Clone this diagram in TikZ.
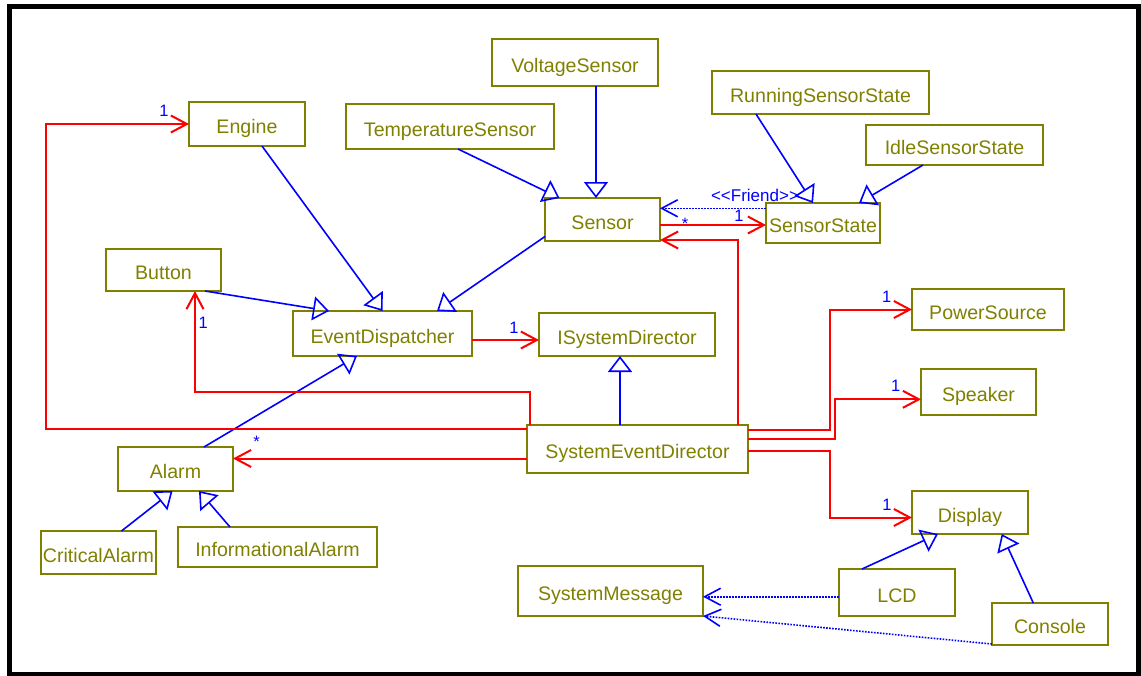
\documentclass[tikz,border=0pt]{standalone}
\usepackage{fontspec}
\setmainfont{Liberation Sans}
\usetikzlibrary{arrows.meta}
\definecolor{umlolive}{RGB}{128,128,0}
\definecolor{umlblue}{RGB}{0,0,255}
\definecolor{umlred}{RGB}{255,0,0}
\begin{document}
\begin{tikzpicture}[x=1pt,y=-1pt,
  cls/.style={draw=umlolive, line width=2pt, text=umlolive, inner sep=0pt, outer sep=0pt,
    text height=19pt, text depth=0pt, font=\fontsize{19.6}{22}\selectfont},
  gen/.style={draw=umlblue, line width=1.6pt,
    -{Triangle[open,length=16pt,width=24pt]}},
  assoc/.style={draw=umlred, line width=2pt, -{Straight Barb[length=16pt,width=17pt]}},
  dep/.style={draw=umlblue, line width=1.6pt, dash pattern=on 1.6pt off 1.4pt,
    -{Straight Barb[length=16pt,width=17pt]}},
  mult/.style={text=umlblue, inner sep=0pt, font=\fontsize{16.5}{18}\selectfont},
]
\useasboundingbox (0,0) rectangle (1141,675);
% outer frame
\draw[line width=5pt] (9.5,6.5) rectangle (1138.5,674.5);

% classes
\node[cls, minimum width=116pt, minimum height=44pt] (Engine) at (247,124) {Engine};
\node[cls, minimum width=166pt, minimum height=47pt] (VoltageSensor) at (575,62.5) {VoltageSensor};
\node[cls, minimum width=208pt, minimum height=45pt] (TemperatureSensor) at (450,126.5) {TemperatureSensor};
\node[cls, minimum width=217pt, minimum height=43pt] (RunningSensorState) at (820.5,92.5) {RunningSensorState};
\node[cls, minimum width=177pt, minimum height=40pt] (IdleSensorState) at (954.5,145) {IdleSensorState};
\node[cls, minimum width=115pt, minimum height=43pt] (Sensor) at (602.5,219.5) {Sensor};
\node[cls, minimum width=114pt, minimum height=40pt] (SensorState) at (823,223) {SensorState};
\node[cls, minimum width=115pt, minimum height=42pt] (Button) at (163.5,270) {Button};
\node[cls, minimum width=179pt, minimum height=45pt] (EventDispatcher) at (382.5,333.5) {EventDispatcher};
\node[cls, minimum width=176pt, minimum height=43pt] (ISystemDirector) at (627,334.5) {ISystemDirector};
\node[cls, minimum width=221pt, minimum height=48pt] (SystemEventDirector) at (637.5,449) {SystemEventDirector};
\node[cls, minimum width=152pt, minimum height=41pt] (PowerSource) at (988,309.5) {PowerSource};
\node[cls, minimum width=115pt, minimum height=46pt] (Speaker) at (978.5,392) {Speaker};
\node[cls, minimum width=116pt, minimum height=43pt] (Display) at (970,512.5) {Display};
\node[cls, minimum width=116pt, minimum height=47pt] (LCD) at (897,592.5) {LCD};
\node[cls, minimum width=116pt, minimum height=42pt] (Console) at (1050,624) {Console};
\node[cls, minimum width=185pt, minimum height=50pt] (SystemMessage) at (610.5,591) {SystemMessage};
\node[cls, minimum width=115pt, minimum height=44pt] (Alarm) at (175.5,469) {Alarm};
\node[cls, minimum width=115pt, minimum height=43pt] (CriticalAlarm) at (98.5,552.5) {CriticalAlarm};
\node[cls, minimum width=199pt, minimum height=40pt] (InformationalAlarm) at (277.5,547) {InformationalAlarm};

% generalizations
\draw[gen] ([xshift=21pt]VoltageSensor.south) -- ([xshift=-6.5pt]Sensor.north);
\draw[gen] ([xshift=8pt]TemperatureSensor.south) -- ([xshift=-43pt]Sensor.north);
\draw[gen] ([xshift=-64.5pt]RunningSensorState.south) -- ([xshift=-10pt]SensorState.north);
\draw[gen] ([xshift=-31.5pt]IdleSensorState.south) -- ([xshift=36pt]SensorState.north);
\draw[gen] ([xshift=15pt]Engine.south) -- (EventDispatcher.north);
\draw[gen] ([yshift=4.5pt]Sensor.south west) -- ([xshift=54.5pt]EventDispatcher.north);
\draw[gen] ([xshift=41.5pt]Button.south) -- ([xshift=-53.5pt]EventDispatcher.north);
\draw[gen] ([xshift=28.5pt]Alarm.north) -- ([xshift=-25.5pt]EventDispatcher.south);
\draw[gen] ([xshift=-17.5pt]SystemEventDirector.north) -- ([xshift=-7pt]ISystemDirector.south);
\draw[gen] ([xshift=23pt]CriticalAlarm.north) -- ([xshift=-3pt]Alarm.south);
\draw[gen] ([xshift=-47.5pt]InformationalAlarm.north) -- ([xshift=23.5pt]Alarm.south);
\draw[gen] ([xshift=-35pt]LCD.north) -- ([xshift=-32pt]Display.south);
\draw[gen] ([xshift=-16.7pt]Console.north) -- ([xshift=31.7pt]Display.south);

% dependencies
\draw[dep] ([yshift=14.7pt]SensorState.west) -- ([yshift=11.2pt]Sensor.east);
\draw[dep] ([yshift=-4.2pt]LCD.west) -- ([yshift=-5.7pt]SystemMessage.east);
\draw[dep] ([yshift=1pt]Console.south west) -- (SystemMessage.south east);

% associations
\draw[assoc] ([yshift=-5.5pt]Sensor.east) -- ([yshift=-2pt]SensorState.west);
\draw[assoc] ([xshift=100.5pt]SystemEventDirector.north) |- ([yshift=-20.5pt]Sensor.east);
\draw[assoc] ([yshift=-6.5pt]EventDispatcher.east) -- ([yshift=-5.5pt]ISystemDirector.west);
\draw[assoc] ([xshift=-107.5pt]SystemEventDirector.north) -- ++(0,-33) -| ([xshift=31.5pt]Button.south);
\draw[assoc] ([yshift=20.3pt]SystemEventDirector.west) -- ++(-481,0) |- (Engine.west);
\draw[assoc] ([yshift=-9.5pt]SystemEventDirector.west) -- ([yshift=10.5pt]Alarm.east);
\draw[assoc] ([yshift=19pt]SystemEventDirector.east) -- ++(82,0) |- (PowerSource.west);
\draw[assoc] ([yshift=10pt]SystemEventDirector.east) -- ++(87,0) |- ([yshift=-7.3pt]Speaker.west);
\draw[assoc] ([yshift=-2pt]SystemEventDirector.east) -- ++(82,0) |- ([yshift=-5pt]Display.west);

% multiplicities and stereotype
\node[mult] (mEngine) at (164,110.5) {1};
\node[mult] (mButton) at (203.3,323.3) {1};
\node[mult] (mISD) at (514,327.5) {1};
\node[mult] (mPower) at (886.7,297) {1};
\node[mult] (mSpeaker) at (895.7,386) {1};
\node[mult] (mDisplay) at (887,504.5) {1};
\node[mult] (mState) at (739,215.5) {1};
\node[mult, anchor=base] (mSensor) at (685,229.5) {*};
\node[mult, anchor=base] (mAlarm) at (256.7,447.5) {*};
\node[mult, anchor=base, font=\fontsize{17}{19}\selectfont] (friend) at (755,201.5) {<{}<Friend>{}>};
\end{tikzpicture}
\end{document}
